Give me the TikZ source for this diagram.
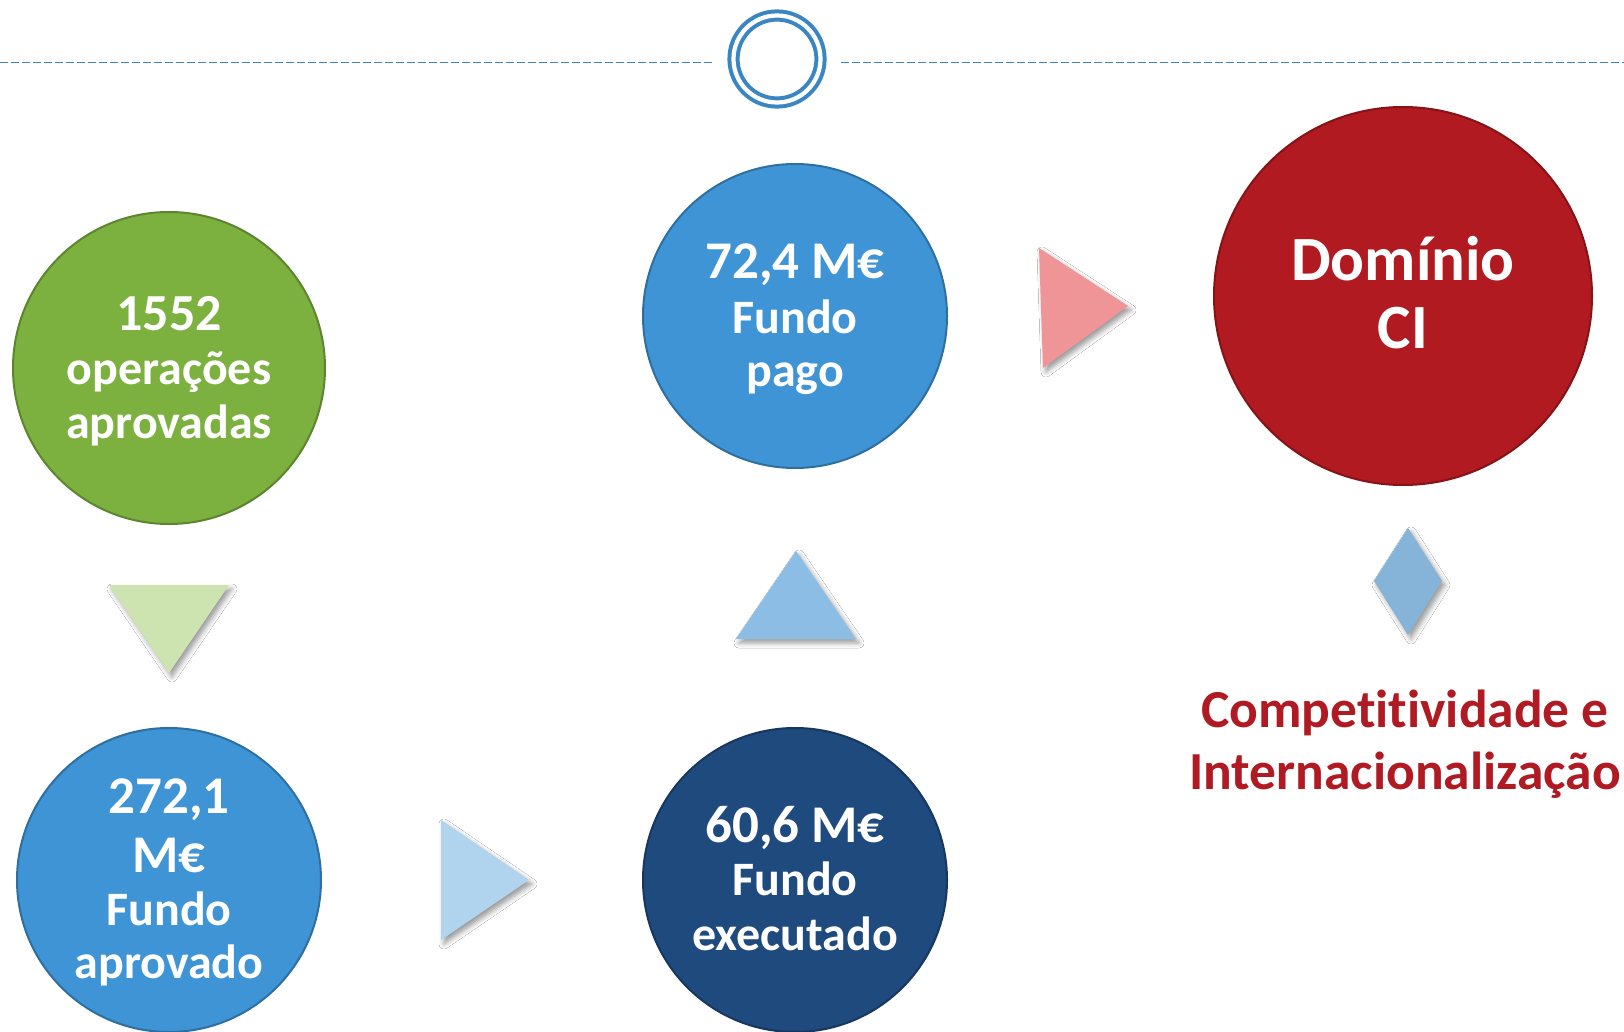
\documentclass[tikz,border=0pt]{standalone}
\usepackage{fontspec}
\setmainfont{Carlito}[Ligatures=NoCommon]
\usetikzlibrary{shadows.blur}
\definecolor{cgreen}{HTML}{7CB13F}
\definecolor{cblue}{HTML}{3E94D5}
\definecolor{cdark}{HTML}{1F4A7E}
\definecolor{cred}{HTML}{B11A20}
\definecolor{tgreen}{HTML}{CDE4B1}
\definecolor{tlblue}{HTML}{B1D4EE}
\definecolor{tmblue}{HTML}{8BBDE5}
\definecolor{tpink}{HTML}{EF9497}
\definecolor{tdiam}{HTML}{86B3D8}
\definecolor{ring}{HTML}{3A86C4}
\definecolor{redtxt}{HTML}{B01A22}
\tikzset{
  bubble/.style={circle, inner sep=0pt, line width=2pt},
  txt/.style={text=white, font=\bfseries, inner sep=0pt, anchor=base},
  shp/.style={blur shadow={shadow xshift=3pt, shadow yshift=-4pt, shadow blur radius=5pt, shadow opacity=40}},
}
\newcommand{\fsz}[1]{\fontsize{#1}{#1}\selectfont}
\begin{document}
\begin{tikzpicture}[x=1pt,y=-1pt]
\useasboundingbox (0,0) rectangle (1624,1032);
\fill[white] (0,0) rectangle (1624,1032);

% top ring and dashed line
\node[circle, draw=ring, line width=4pt, minimum size=87pt, inner sep=0pt,
      double=white, double distance=4.2pt] (top) at (777,59) {};
\coordinate (L) at (0,62.5);
\coordinate (R) at (1624,62.5);
\draw[ring, line width=1.8pt, dash pattern=on 8pt off 3pt] (L) -- (713,62.5);
\draw[ring, line width=1.8pt, dash pattern=on 8pt off 3pt] (841,62.5) -- (R);

% circles
\node[bubble, fill=cgreen, draw=cgreen!75!black, minimum size=312pt] (c1) at (169,368) {};
\node[bubble, fill=cblue, draw=cblue!75!black, minimum size=304pt] (c2) at (169,880) {};
\node[bubble, fill=cdark, draw=cdark!75!black, minimum size=304pt] (c3) at (795,880) {};
\node[bubble, fill=cblue, draw=cblue!75!black, minimum size=304pt] (c4) at (795,316) {};
\node[bubble, fill=cred, draw=cred!75!black, minimum size=378pt] (c5) at (1403,296) {};

% triangles
\fill[tgreen, shp] (109,585) -- (229,585) -- (169,673) -- cycle;
\fill[tlblue, shp] (441,820) -- (441,940) -- (529,880) -- cycle;
\fill[tmblue, shp] (736,639) -- (796,551) -- (856,639) -- cycle;
\fill[tpink, shp] (1039,248) -- (1128,306) -- (1043,368) -- cycle;
\fill[tdiam, shp] (1408,528) -- (1442,581) -- (1408,635) -- (1374,581) -- cycle;

% texts
\node[txt] (t1a) at (169,330) {\fsz{52}1552};
\node[txt] (t1b) at (169,384) {\fsz{48}operações};
\node[txt] (t1c) at (169,438) {\fsz{48}aprovadas};

\node[txt] (t2a) at (169,813) {\fsz{53}272,1};
\node[txt] (t2b) at (169,872) {\fsz{53}M€};
\node[txt] (t2c) at (169,925) {\fsz{48}Fundo};
\node[txt] (t2d) at (169,978) {\fsz{48}aprovado};

\node[txt] (t3a) at (795,842) {\fsz{53}60,6 M€};
\node[txt] (t3b) at (795,895) {\fsz{48}Fundo};
\node[txt] (t3c) at (795,950) {\fsz{48}executado};

\node[txt] (t4a) at (795,278) {\fsz{53}72,4 M€};
\node[txt] (t4b) at (795,333) {\fsz{48}Fundo};
\node[txt] (t4c) at (795,386) {\fsz{48}pago};

\node[txt] (t5a) at (1403,280) {\fsz{63}Domínio};
\node[txt] (t5b) at (1403,348) {\fsz{63}CI};

\node[txt, text=redtxt] (t6a) at (1405,727) {\fsz{53.5}Competitividade e};
\node[txt, text=redtxt] (t6b) at (1405,789) {\fsz{53.5}Internacionalização};
\end{tikzpicture}
\end{document}
